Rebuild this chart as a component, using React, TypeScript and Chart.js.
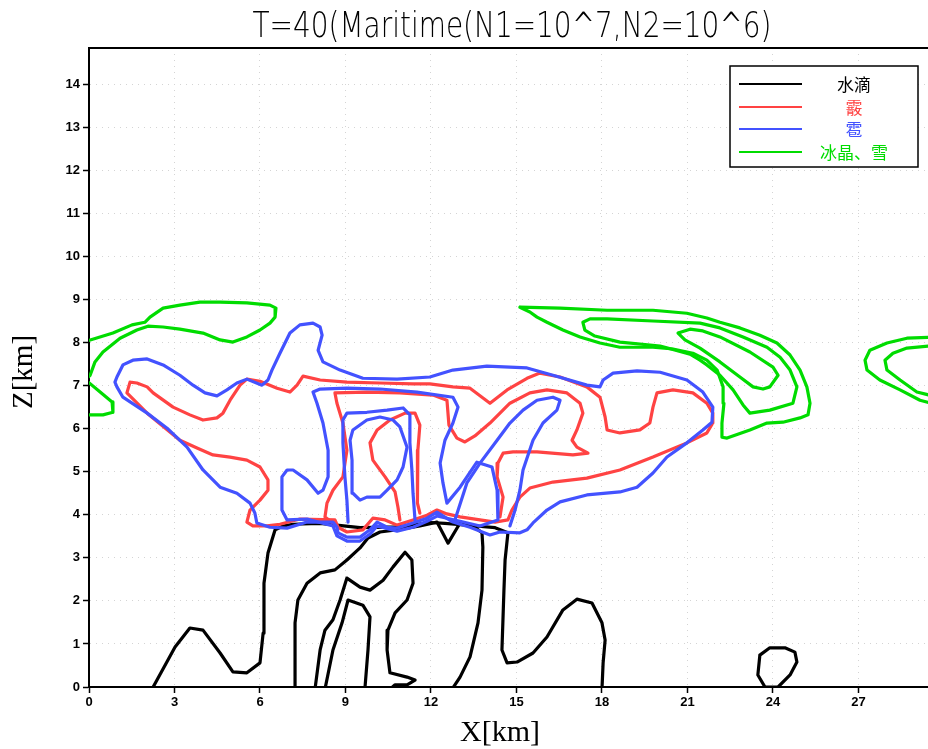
import React, { useEffect, useRef } from 'react';
import { Chart, registerables } from 'chart.js';
Chart.register(...registerables);

type P = [number, number];

const TITLE = 'T=40(Maritime(N1=10^7,N2=10^6)';
const X_LABEL = 'X[km]';
const Y_LABEL = 'Z[km]';
const X_TICKS = [0, 3, 6, 9, 12, 15, 18, 21, 24, 27];
const Y_TICKS = [0, 1, 2, 3, 4, 5, 6, 7, 8, 9, 10, 11, 12, 13, 14];
const X_MAX = 29.44;
const Y_MAX = 14.84;
const LEGEND_LABELS = ['水滴', '霰', '雹', '冰晶、雪'];
const COLOR_WATER = '#000000';
const COLOR_GRAUPEL = '#ff4343';
const COLOR_HAIL = '#4352ff';
const COLOR_ICE = '#00dc00';

// ---- 水滴 (cloud water) contours ----
const waterOuter: P[] = [[2.21,-0.05],[3.02,0.93],[3.54,1.37],[4.0,1.32],[4.6,0.79],[5.05,0.35],[5.54,0.33],[6.0,0.56],[6.11,1.25],[6.14,2.41],[6.28,3.11],[6.53,3.65],[6.81,3.74],[7.16,3.78],[8.11,3.8],[9.51,3.7],[10.91,3.72],[11.96,3.82],[12.49,3.8],[13.37,3.75],[14.25,3.7],[14.7,3.58],[14.6,2.95],[14.56,2.25],[14.49,0.86],[14.67,0.56],[15.02,0.58],[15.58,0.79],[16.07,1.16],[16.63,1.79],[17.12,2.04],[17.65,1.95],[18.0,1.49],[18.11,1.09],[18.04,0.56],[18.0,-0.05]];
const waterMid: P[] = [[7.23,-0.05],[7.23,1.49],[7.33,2.02],[7.65,2.41],[8.11,2.65],[8.63,2.72],[9.05,2.95],[9.51,3.23],[9.79,3.46],[10.21,3.6],[10.91,3.66],[11.61,3.74],[12.21,3.83],[12.6,3.34],[13.02,3.81],[13.54,3.71],[13.79,3.58],[13.82,3.25],[13.79,2.25],[13.65,1.49],[13.37,0.7],[13.02,0.23],[12.74,-0.05]];
const waterInner: P[] = [[7.93,-0.05],[8.11,0.86],[8.28,1.32],[8.56,1.56],[8.81,2.02],[9.05,2.53],[9.51,2.32],[9.86,2.25],[10.32,2.48],[10.67,2.79],[11.09,3.13],[11.33,2.95],[11.37,2.41],[11.16,2.02],[10.74,1.72],[10.49,1.32],[10.46,0.86],[10.56,0.33],[11.16,0.23],[11.44,0.16],[11.16,0.05],[10.74,0.05],[10.56,-0.05]];
const waterCore: P[] = [[8.28,-0.05],[8.56,0.86],[8.88,1.49],[9.09,2.02],[9.61,1.9],[9.86,1.63],[9.79,0.86],[9.68,-0.05]];
const waterCell: P[] = [[23.54,0.74],[23.89,0.91],[24.42,0.91],[24.77,0.81],[24.84,0.58],[24.6,0.28],[24.18,0],[23.72,0],[23.47,0.28],[23.54,0.74]];

// ---- 冰晶、雪 (ice / snow) contours ----
const iceLeftA: P[] = [[-0.1,8.03],[0.84,8.22],[1.51,8.41],[1.96,8.47],[2.14,8.59],[2.6,8.8],[3.19,8.87],[3.89,8.94],[4.6,8.94],[5.54,8.92],[6.35,8.87],[6.56,8.8],[6.53,8.59],[6.35,8.45],[6.0,8.29],[5.54,8.13],[5.05,8.01],[4.6,8.06],[4.0,8.22],[3.19,8.31],[2.6,8.36],[2.07,8.38],[1.68,8.29],[1.09,8.1],[0.49,7.78],[0.21,7.55],[0.04,7.24],[-0.1,7.15]];
const iceLeftB: P[] = [[-0.1,7.12],[0.39,6.85],[0.81,6.62],[0.84,6.38],[0.49,6.32],[-0.1,6.32]];
const iceRightOuter: P[] = [[15.12,8.82],[16.53,8.8],[18.18,8.75],[19.79,8.75],[20.98,8.68],[21.68,8.57],[22.14,8.47],[22.84,8.34],[23.54,8.17],[24.14,7.99],[24.6,7.71],[24.95,7.36],[25.19,6.97],[25.3,6.59],[25.23,6.32],[24.95,6.25],[24.35,6.15],[23.79,6.13],[23.19,5.97],[22.39,5.78],[22.21,5.8],[22.21,6.13],[22.28,6.59],[22.25,6.97],[22.04,7.36],[21.68,7.59],[21.19,7.75],[20.49,7.85],[19.79,7.89],[18.63,7.89],[17.93,7.99],[17.23,8.13],[16.63,8.29],[16.07,8.47],[15.72,8.59],[15.47,8.71],[15.12,8.82]];
const iceRightMid: P[] = [[17.33,8.47],[17.58,8.55],[18.18,8.55],[19.79,8.5],[21.44,8.45],[22.14,8.34],[22.95,8.13],[23.79,7.89],[24.25,7.66],[24.6,7.36],[24.84,6.97],[24.7,6.59],[23.89,6.43],[23.19,6.36],[22.95,6.55],[22.6,6.9],[22.14,7.24],[21.68,7.48],[21.44,7.59],[21.09,7.73],[20.04,7.92],[18.63,8.01],[17.75,8.15],[17.4,8.29],[17.33,8.47]];
const iceRightInner: P[] = [[20.67,8.22],[21.09,8.31],[21.54,8.27],[22.14,8.13],[23.19,7.78],[24.0,7.43],[24.18,7.24],[23.89,6.97],[23.65,6.92],[23.3,6.97],[22.84,7.2],[22.14,7.55],[21.44,7.87],[20.91,8.06],[20.67,8.22]];
const iceEdgeOuter: P[] = [[29.8,8.13],[28.7,8.1],[28.0,7.99],[27.4,7.82],[27.23,7.59],[27.3,7.36],[27.75,7.13],[28.46,6.9],[29.16,6.66],[29.8,6.55]];
const iceEdgeInner: P[] = [[29.8,7.94],[28.7,7.87],[28.21,7.75],[27.93,7.59],[28.0,7.36],[28.46,7.13],[29.05,6.85],[29.8,6.73]];

// ---- 霰 (graupel) contours ----
const graupelOuter: P[] = [[1.44,7.08],[1.68,7.06],[2.04,6.97],[2.25,6.83],[2.95,6.5],[3.54,6.32],[4.0,6.2],[4.49,6.25],[4.7,6.36],[4.95,6.66],[5.3,7.01],[5.54,7.15],[6.0,7.1],[6.6,6.94],[7.05,6.85],[7.3,7.01],[7.51,7.22],[8.11,7.13],[9.05,7.08],[10.21,7.06],[11.37,7.04],[11.96,7.04],[12.77,6.97],[13.37,6.94],[14.07,6.59],[14.67,6.9],[15.37,7.17],[15.82,7.29],[16.53,7.2],[17.47,6.97],[17.93,6.73],[18.11,6.27],[18.18,5.97],[18.63,5.9],[19.33,5.97],[19.68,6.13],[19.79,6.5],[19.93,6.83],[20.49,6.9],[21.19,6.83],[21.68,6.59],[21.89,6.36],[21.89,6.13],[21.68,5.9],[20.98,5.67],[19.79,5.34],[18.63,5.04],[17.47,4.85],[16.28,4.76],[15.47,4.62],[15.12,4.41],[14.84,4.11],[14.7,3.88],[14.25,3.83],[13.72,3.88],[13.02,3.95],[12.56,4.02],[12.21,4.11],[11.86,3.99],[11.37,3.88],[10.81,3.76],[10.39,3.88],[9.96,3.92],[9.61,3.65],[9.05,3.6],[8.74,3.71],[8.63,3.88],[7.4,3.9],[6.7,3.78],[6.25,3.74],[5.75,3.74],[5.54,3.83],[5.65,4.11],[6.0,4.34],[6.28,4.57],[6.28,4.81],[6.0,5.11],[5.54,5.27],[4.95,5.34],[4.35,5.39],[3.79,5.55],[3.19,5.73],[2.04,6.36],[1.33,6.83],[1.44,7.08]];
const graupelMid: P[] = [[8.56,3.81],[8.28,3.95],[8.35,4.27],[8.56,4.57],[8.91,4.88],[9.05,5.5],[8.91,6.13],[8.7,6.59],[8.63,6.83],[9.75,6.85],[10.91,6.83],[12.07,6.78],[12.56,6.66],[12.63,6.08],[12.91,5.78],[13.19,5.69],[13.54,5.83],[14.07,6.13],[14.77,6.59],[15.47,6.83],[16.07,6.9],[16.77,6.83],[17.23,6.59],[17.33,6.36],[17.12,5.97],[16.95,5.73],[17.12,5.57],[17.51,5.43],[16.98,5.39],[15.72,5.46],[14.88,5.46],[14.53,5.43],[14.35,5.2],[14.32,4.88],[14.53,4.41],[14.42,3.95]];
const graupelCore: P[] = [[10.91,3.88],[10.84,4.18],[10.74,4.53],[10.39,4.88],[9.96,5.27],[9.86,5.67],[10.11,5.97],[10.56,6.2],[11.09,6.36],[11.44,6.36],[11.61,6.08],[11.54,5.5],[11.51,4.81],[11.54,4.27],[11.61,4.04]];

// ---- 雹 (hail) contours ----
const hailOuter: P[] = [[0.91,7.08],[0.98,7.2],[1.19,7.48],[1.54,7.59],[2.04,7.62],[2.6,7.48],[3.19,7.24],[3.65,7.01],[4.07,6.83],[4.49,6.76],[4.84,6.9],[5.19,7.06],[5.54,7.15],[6.07,7.01],[6.28,7.13],[6.42,7.36],[6.7,7.75],[7.05,8.22],[7.4,8.41],[7.86,8.45],[8.11,8.36],[8.18,8.17],[8.04,7.82],[8.21,7.55],[8.81,7.36],[9.61,7.17],[10.81,7.15],[11.96,7.2],[12.77,7.36],[13.96,7.45],[15.37,7.41],[16.28,7.24],[17.47,7.01],[17.93,6.97],[18.04,7.13],[18.39,7.29],[19.23,7.34],[20.04,7.31],[20.98,7.13],[21.54,6.85],[21.89,6.5],[21.86,6.15],[21.54,5.97],[20.98,5.67],[20.28,5.34],[19.79,4.97],[19.23,4.64],[18.63,4.53],[17.47,4.46],[16.53,4.3],[16.07,4.11],[15.58,3.81],[15.37,3.65],[15.12,3.58],[14.42,3.6],[14.07,3.53],[13.37,3.71],[12.77,3.83],[12.21,4.06],[11.86,3.92],[11.37,3.81],[10.81,3.69],[10.46,3.71],[10.11,3.83],[9.86,3.65],[9.51,3.48],[9.05,3.48],[8.74,3.58],[8.7,3.71],[8.56,3.83],[7.65,3.83],[6.95,3.69],[6.35,3.71],[5.89,3.81],[5.82,4.04],[5.65,4.27],[5.19,4.5],[4.6,4.64],[4.0,5.04],[3.44,5.57],[2.74,6.01],[2.04,6.36],[1.19,6.73],[0.98,6.97],[0.91,7.08]];
const hailMid: P[] = [[6.95,3.88],[6.77,4.11],[6.77,4.88],[6.95,5.04],[7.16,5.04],[7.65,4.81],[8.04,4.5],[8.21,4.57],[8.39,4.88],[8.39,5.5],[8.21,6.13],[8.0,6.59],[7.86,6.85],[8.11,6.92],[9.05,6.94],[10.21,6.92],[11.51,6.85],[12.77,6.73],[12.95,6.5],[12.77,6.13],[12.49,5.73],[12.32,5.2],[12.42,4.74],[12.56,4.27],[13.02,4.64],[13.61,5.22],[14.14,5.11],[14.32,4.57],[14.35,3.88],[13.72,3.74],[13.02,3.85],[12.21,3.97],[11.86,3.85],[11.37,3.71],[10.81,3.62],[10.11,3.74],[9.86,3.55],[9.51,3.39],[9.05,3.39],[8.7,3.51],[8.56,3.74],[7.65,3.9],[6.95,3.88]];
const hailBox: P[] = [[9.09,3.83],[9.05,4.34],[8.98,4.88],[8.91,5.67],[8.91,6.2],[9.05,6.36],[9.75,6.38],[10.46,6.43],[11.02,6.48],[11.26,6.32],[11.26,5.67],[11.33,5.04],[11.37,4.5],[11.44,3.88]];
const hailCore: P[] = [[9.16,5.73],[9.26,5.97],[9.75,6.2],[10.21,6.27],[10.67,6.2],[10.91,6.04],[11.16,5.57],[11.02,5.11],[10.81,4.81],[10.46,4.57],[10.21,4.41],[9.75,4.41],[9.51,4.34],[9.26,4.5],[9.23,5.27],[9.16,5.73]];
const hailRight: P[] = [[12.84,3.88],[13.26,4.74],[13.72,5.2],[14.32,5.73],[14.77,6.13],[15.23,6.43],[15.72,6.66],[16.28,6.73],[16.53,6.66],[16.42,6.43],[15.93,6.13],[15.58,5.73],[15.23,5.04],[15.12,4.57],[14.95,4.11],[14.77,3.74]];

const hailSet = [hailOuter, hailMid, hailBox, hailCore, hailRight];
const graupelSet = [graupelOuter, graupelMid, graupelCore];
const iceSet = [iceLeftA, iceLeftB, iceRightOuter, iceRightMid, iceRightInner, iceEdgeOuter, iceEdgeInner];
const waterSet = [waterOuter, waterMid, waterInner, waterCore, waterCell];

const decorPlugin = {
  id: 'decor',
  afterDraw(chart: any) {
    const { ctx, chartArea: a } = chart;
    ctx.save();
    // top frame line
    ctx.strokeStyle = '#000';
    ctx.lineWidth = 2;
    ctx.beginPath();
    ctx.moveTo(a.left - 1, a.top);
    ctx.lineTo(a.right, a.top);
    ctx.stroke();

    // title
    ctx.fillStyle = '#000';
    ctx.font = '200 35px "DejaVu Sans", sans-serif';
    ctx.textAlign = 'center';
    ctx.textBaseline = 'alphabetic';
    const tw = ctx.measureText(TITLE).width;
    ctx.save();
    ctx.translate(512, 37);
    ctx.scale(519 / tw, 1);
    ctx.fillText(TITLE, 0, 0);
    ctx.restore();

    // axis titles
    ctx.font = '30px "Liberation Serif", "DejaVu Serif", serif';
    ctx.fillText(X_LABEL, 500, 741);
    ctx.save();
    ctx.translate(32, 372);
    ctx.rotate(-Math.PI / 2);
    ctx.font = '29px "Liberation Serif", "DejaVu Serif", serif';
    ctx.fillText(Y_LABEL, 0, 0);
    ctx.restore();

    // legend
    const bx = 730, by = 66, bw = 188, bh = 101;
    ctx.fillStyle = '#fff';
    ctx.fillRect(bx, by, bw, bh);
    ctx.strokeStyle = '#000';
    ctx.lineWidth = 1.5;
    ctx.strokeRect(bx, by, bw, bh);
    const cols = [COLOR_WATER, COLOR_GRAUPEL, COLOR_HAIL, COLOR_ICE];
    const rows = [84, 107, 129, 152];
    ctx.font = '17px "Noto Sans CJK SC", sans-serif';
    ctx.textBaseline = 'middle';
    LEGEND_LABELS.forEach((lab, i) => {
      ctx.strokeStyle = cols[i];
      ctx.lineWidth = 2;
      ctx.beginPath();
      ctx.moveTo(739, rows[i]);
      ctx.lineTo(802, rows[i]);
      ctx.stroke();
      ctx.fillStyle = cols[i];
      ctx.fillText(lab, 854, rows[i] + 1);
    });
    ctx.restore();
  },
};

function mk(points: P[], color: string) {
  return {
    data: points.map(([x, y]) => ({ x, y })),
    borderColor: color,
    backgroundColor: color,
    borderWidth: 3.2,
    showLine: true,
    pointRadius: 0,
    fill: false,
    tension: 0,
    borderJoinStyle: 'round' as const,
    borderCapStyle: 'round' as const,
  };
}

export default function App() {
  const ref = useRef<HTMLCanvasElement | null>(null);
  useEffect(() => {
    if (!ref.current) return;
    const datasets = [
      ...hailSet.map((p) => mk(p, COLOR_HAIL)),
      ...graupelSet.map((p) => mk(p, COLOR_GRAUPEL)),
      ...iceSet.map((p) => mk(p, COLOR_ICE)),
      ...waterSet.map((p) => mk(p, COLOR_WATER)),
    ];
    const tickFont = { family: '"Liberation Sans", Arial, sans-serif', size: 13, weight: 'bold' };
    const grid = {
      color: '#d4d4d4',
      lineWidth: 1,
      tickColor: '#000',
      tickLength: 6,
      tickBorderDash: [],
      tickWidth: 1.5,
    };
    const border = { display: true, color: '#000', width: 2, dash: [1, 5] };
    const chart = new Chart(ref.current, {
      type: 'scatter',
      data: { datasets },
      plugins: [decorPlugin],
      options: {
        animation: false,
        responsive: false,
        devicePixelRatio: 1,
        layout: { padding: { top: 48, left: 0, right: 0, bottom: 0 } },
        plugins: { legend: { display: false }, tooltip: { enabled: false }, title: { display: false } },
        scales: {
          x: {
            type: 'linear',
            min: 0,
            max: X_MAX,
            afterBuildTicks: (s: any) => { s.ticks = X_TICKS.map((v) => ({ value: v })); },
            afterFit: (s: any) => { s.height = 62; s.paddingLeft = 0; s.paddingRight = 0; },
            ticks: { font: tickFont, color: '#000', padding: 2, maxRotation: 0, autoSkip: false },
            grid,
            border,
          },
          y: {
            type: 'linear',
            min: 0,
            max: Y_MAX,
            afterBuildTicks: (s: any) => { s.ticks = Y_TICKS.map((v) => ({ value: v })); },
            afterFit: (s: any) => { s.width = 89; s.paddingTop = 0; s.paddingBottom = 0; },
            ticks: { font: tickFont, color: '#000', padding: 3, autoSkip: false },
            grid,
            border,
          },
        },
      } as any,
    });
    return () => chart.destroy();
  }, []);
  return (
    <div style={{ position: 'absolute', left: 0, top: 0, width: 928, height: 749, background: '#fff' }}>
      <canvas ref={ref} width={928} height={749} style={{ width: 928, height: 749, display: 'block' }} />
    </div>
  );
}
